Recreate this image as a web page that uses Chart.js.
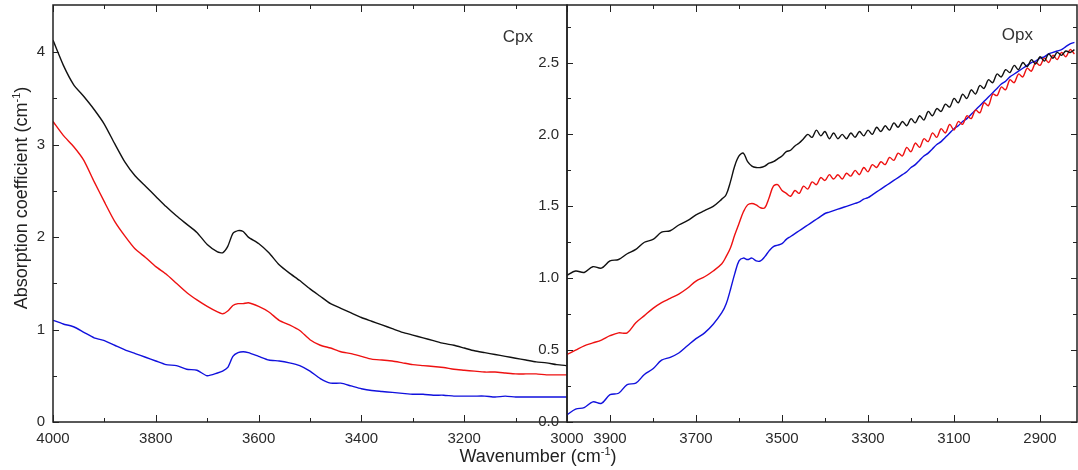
<!DOCTYPE html>
<html>
<head>
<meta charset="utf-8">
<script src="https://cdn.jsdelivr.net/npm/chart.js@4"></script>
<style>
  body { margin: 0; background: #fff; }
  #wrap { position: relative; width: 1078px; height: 470px; overflow: hidden; font-family: "Liberation Sans", Arial, sans-serif; color: #222; }
  canvas { position: absolute; top: 0; }
  #cpx { left: 0; }
  #opx { left: 520px; }
  #xtitle { position: absolute; left: 388px; width: 300px; top: 447px; text-align: center; font-size: 18px; line-height: 18px; }
  #ytitle { position: absolute; left: -129px; top: 188px; width: 300px; height: 20px; line-height: 20px; text-align: center; font-size: 18px; transform: rotate(-90deg); }
  sup { font-size: 11px; vertical-align: 7px; line-height: 0; }
</style>
</head>
<body>
<div id="wrap">
  <canvas id="cpx" width="600" height="470"></canvas>
  <canvas id="opx" width="558" height="470"></canvas>
  <div id="ytitle">Absorption coefficient (cm<sup>-1</sup>)</div>
  <div id="xtitle">Wavenumber (cm<sup>-1</sup>)</div>
</div>
<script>
// Cpx panel (left)
const cpxWn = [4000,3980,3960,3940,3920,3900,3880,3860,3840,3820,3800,3780,3760,3740,3720,3700,3680,
  3670,3660,3650,3640,3630,3620,
  3600,3580,3560,3540,3520,3500,3480,3460,3440,3420,3400,3380,3360,3340,3320,3300,3280,3260,3240,3220,
  3200,3180,3160,3140,3120,3100,3080,3060,3040,3020,3000];
const cpxBlack = [4.13,3.86,3.65,3.52,3.38,3.22,3.01,2.81,2.66,2.55,2.44,2.33,2.23,2.14,2.05,1.92,1.84,
  1.83,1.90,2.04,2.07,2.06,2.00,
  1.93,1.83,1.70,1.61,1.53,1.44,1.36,1.28,1.23,1.18,1.13,1.09,1.05,1.01,0.97,0.94,0.91,0.88,0.85,0.83,
  0.80,0.77,0.75,0.73,0.71,0.69,0.67,0.65,0.64,0.62,0.61];
const cpxRed = [3.25,3.10,2.98,2.83,2.60,2.38,2.17,2.01,1.87,1.78,1.68,1.60,1.50,1.40,1.32,1.25,1.19,
  1.17,1.20,1.26,1.28,1.28,1.29,
  1.25,1.19,1.10,1.05,0.99,0.89,0.83,0.80,0.76,0.74,0.71,0.68,0.67,0.66,0.64,0.62,0.61,0.60,0.59,0.57,
  0.56,0.55,0.54,0.54,0.53,0.52,0.52,0.52,0.51,0.51,0.51];
const cpxBlue = [1.10,1.06,1.03,0.97,0.91,0.88,0.83,0.78,0.74,0.70,0.66,0.62,0.61,0.57,0.56,0.50,0.53,
  0.55,0.59,0.71,0.75,0.76,0.75,
  0.71,0.67,0.66,0.64,0.61,0.55,0.47,0.42,0.42,0.39,0.36,0.34,0.33,0.32,0.31,0.30,0.30,0.29,0.29,0.28,
  0.28,0.28,0.28,0.27,0.28,0.27,0.27,0.27,0.27,0.27,0.27];
const cpxXLabels = [4000,3800,3600,3400,3200,3000];
const cpxXMinor = [3900,3700,3500,3300,3100];
const cpxYLabels = [0,1,2,3,4];
const cpxYMinor = [0.5,1.5,2.5,3.5];

// Opx panel (right)
const opxWn = [4000,3980,3960,3940,3920,3900,3880,3860,3840,3820,3800,3780,3760,3740,3720,3700,3680,3660,3640,
  3630,3620,3610,3600,3590,3580,3570,3560,3550,3540,
  3530,3520,3510,3500,3490,3480,3470,3460,3450,3440,
  3430,3420,3410,3400,3390,3380,3370,3360,3350,3340,
  3330,3320,3310,3300,3290,3280,3270,3260,3250,3240,
  3230,3220,3210,3200,3190,3180,3170,3160,3150,3140,
  3130,3120,3110,3100,3090,3080,3070,3060,3050,3040,
  3030,3020,3010,3000,2990,2980,2970,2960,2950,2940,
  2930,2920,2910,2900,2890,2880,2870,2860,2850,2840,
  2830,2820];
const opxBlack = [1.02,1.05,1.04,1.08,1.07,1.12,1.13,1.17,1.20,1.25,1.27,1.32,1.33,1.37,1.40,1.44,1.47,1.50,1.55,
  1.58,1.67,1.78,1.85,1.87,1.81,1.78,1.77,1.77,1.78,
  1.80,1.81,1.83,1.85,1.88,1.89,1.92,1.94,1.97,2.00,
  1.98,2.03,1.99,2.02,1.97,2.01,1.97,2.00,1.97,2.01,
  1.98,2.02,1.99,2.03,2.00,2.05,2.02,2.06,2.03,2.08,
  2.05,2.09,2.06,2.11,2.08,2.13,2.10,2.16,2.13,2.18,
  2.16,2.21,2.19,2.25,2.22,2.28,2.25,2.31,2.28,2.34,
  2.32,2.38,2.36,2.42,2.40,2.45,2.43,2.48,2.45,2.50,
  2.47,2.52,2.49,2.54,2.51,2.56,2.53,2.57,2.55,2.58,
  2.57,2.59];
const opxRed = [0.47,0.50,0.53,0.55,0.57,0.60,0.62,0.62,0.69,0.74,0.79,0.83,0.86,0.89,0.93,0.98,1.01,1.05,1.10,
  1.15,1.21,1.30,1.38,1.46,1.51,1.52,1.51,1.49,1.49,
  1.56,1.64,1.65,1.61,1.59,1.57,1.61,1.59,1.64,1.62,
  1.67,1.65,1.70,1.68,1.72,1.69,1.72,1.69,1.73,1.71,
  1.75,1.72,1.77,1.74,1.79,1.77,1.81,1.79,1.84,1.82,
  1.87,1.85,1.91,1.88,1.94,1.91,1.97,1.95,2.01,1.98,
  2.04,2.01,2.07,2.03,2.09,2.07,2.13,2.11,2.17,2.15,
  2.22,2.20,2.28,2.27,2.33,2.31,2.38,2.36,2.42,2.40,
  2.46,2.44,2.50,2.48,2.53,2.50,2.55,2.52,2.57,2.54,
  2.59,2.56];
const opxBlue = [0.05,0.09,0.10,0.14,0.13,0.19,0.20,0.26,0.27,0.33,0.37,0.43,0.45,0.48,0.53,0.58,0.62,0.68,0.76,
  0.82,0.92,1.03,1.12,1.14,1.13,1.14,1.12,1.12,1.15,
  1.19,1.22,1.23,1.24,1.27,1.29,1.31,1.33,1.35,1.37,
  1.39,1.41,1.43,1.45,1.46,1.47,1.48,1.49,1.50,1.51,
  1.52,1.53,1.55,1.56,1.58,1.60,1.62,1.64,1.66,1.68,
  1.70,1.72,1.74,1.77,1.79,1.82,1.85,1.87,1.90,1.93,
  1.95,1.98,2.01,2.04,2.06,2.09,2.11,2.14,2.17,2.20,
  2.23,2.26,2.29,2.32,2.35,2.37,2.40,2.42,2.44,2.46,
  2.48,2.50,2.51,2.53,2.54,2.56,2.57,2.58,2.59,2.61,
  2.63,2.64];
const opxXLabels = [3900,3700,3500,3300,3100,2900];
const opxXMinor = [3800,3600,3400,3200,3000];
const opxYLabels = [0,0.5,1,1.5,2,2.5];
const opxYMinor = [0.25,0.75,1.25,1.75,2.25,2.75];

const colors = ['#111111', '#ee1111', '#1111dd'];

Chart.defaults.font.family = '"Liberation Sans", Arial, sans-serif';

// cadre + graduations vers l'intérieur + étiquette du panneau
const frameTicks = {
  id: 'frameTicks',
  afterDatasetsDraw(chart, args, o) {
    const { ctx, chartArea: a, scales: { x, y } } = chart;
    ctx.save();
    ctx.strokeStyle = '#222';
    ctx.lineWidth = 1;
    const seg = (x1, y1, x2, y2) => { ctx.beginPath(); ctx.moveTo(x1, y1); ctx.lineTo(x2, y2); ctx.stroke(); };
    const xt = o.xMajor.map(v => [v, 7]).concat(o.xMinor.map(v => [v, 4]));
    xt.forEach(([v, len]) => {
      const px = Math.round(x.getPixelForValue(v)) + 0.5;
      seg(px, a.bottom, px, a.bottom - len);
      seg(px, a.top, px, a.top + len);
    });
    const yt = o.yMajor.map(v => [v, 6]).concat(o.yMinor.map(v => [v, 4]));
    yt.forEach(([v, len]) => {
      const py = Math.round(y.getPixelForValue(v)) + 0.5;
      seg(a.left, py, a.left + len, py);
      if (o.rightTicks) seg(a.right, py, a.right - len, py);
    });
    ctx.lineWidth = 1.5;
    ctx.strokeRect(a.left, a.top, a.right - a.left, a.bottom - a.top);
    ctx.fillStyle = '#333';
    ctx.font = '17px "Liberation Sans", Arial, sans-serif';
    ctx.textAlign = 'right';
    ctx.textBaseline = 'middle';
    ctx.fillText(o.label, a.right - o.labelDx, a.top + o.labelDy);
    ctx.restore();
  }
};

function makeDatasets(wn, series, tension) {
  return series.map((vals, i) => ({
    data: wn.map((w, j) => ({ x: w, y: vals[j] })),
    borderColor: colors[i],
    borderWidth: 1.4,
    pointRadius: 0,
    tension: tension,
    fill: false
  }));
}

function makeChart(id, cfg) {
  return new Chart(document.getElementById(id), {
    type: 'line',
    data: { datasets: makeDatasets(cfg.wn, cfg.series, cfg.tension) },
    options: {
      responsive: false,
      animation: false,
      devicePixelRatio: 1,
      layout: { padding: cfg.padding },
      plugins: {
        legend: { display: false },
        tooltip: { enabled: false },
        frameTicks: cfg.frame
      },
      scales: {
        x: {
          type: 'linear', reverse: true, min: cfg.xMin, max: cfg.xMax,
          grid: { display: false, drawTicks: false },
          border: { display: false },
          afterBuildTicks: s => { s.ticks = cfg.xLabels.map(v => ({ value: v })); },
          afterFit: s => { s.height = 48; s.paddingLeft = 0; s.paddingRight = 0; },
          ticks: { padding: 8, autoSkip: false, maxRotation: 0, color: '#2a2a2a', font: { size: 15 }, callback: v => String(v) }
        },
        y: {
          type: 'linear', min: 0, max: cfg.yMax,
          grid: { display: false, drawTicks: false },
          border: { display: false },
          afterBuildTicks: s => { s.ticks = cfg.yLabels.map(v => ({ value: v })); },
          afterFit: s => { s.width = cfg.yWidth; s.paddingTop = 0; s.paddingBottom = 0; },
          ticks: { padding: 8, color: '#2a2a2a', font: { size: 15 }, callback: cfg.yFormat }
        }
      }
    },
    plugins: [frameTicks]
  });
}

makeChart('cpx', {
  wn: cpxWn, series: [cpxBlack, cpxRed, cpxBlue], tension: 0.2,
  xMin: 3000, xMax: 4000, yMax: 4.51,
  xLabels: cpxXLabels, yLabels: cpxYLabels,
  yWidth: 53, padding: { left: 0, top: 5, right: 33, bottom: 0 },
  yFormat: v => String(v),
  frame: { xMajor: cpxXLabels, xMinor: cpxXMinor, yMajor: cpxYLabels, yMinor: cpxYMinor,
           rightTicks: false, label: 'Cpx', labelDx: 34, labelDy: 32 }
});

makeChart('opx', {
  wn: opxWn, series: [opxBlack, opxRed, opxBlue], tension: 0.35,
  xMin: 2814, xMax: 4000, yMax: 2.9,
  xLabels: opxXLabels, yLabels: opxYLabels,
  yWidth: 47, padding: { left: 0, top: 5, right: 1, bottom: 0 },
  yFormat: v => v.toFixed(1),
  frame: { xMajor: opxXLabels, xMinor: opxXMinor, yMajor: opxYLabels, yMinor: opxYMinor,
           rightTicks: true, label: 'Opx', labelDx: 44, labelDy: 30 }
});
</script>
</body>
</html>
